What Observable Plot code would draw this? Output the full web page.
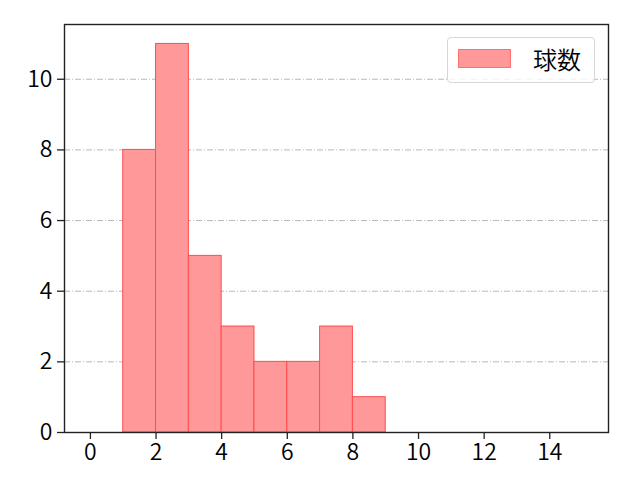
<!DOCTYPE html>
<html>
<head>
<meta charset="utf-8">
<script src="https://cdn.jsdelivr.net/npm/d3@7"></script>
<script src="https://cdn.jsdelivr.net/npm/@observablehq/plot@0.6"></script>
<style>
  html, body { margin: 0; padding: 0; background: #fff; }
  #wrap { position: relative; width: 640px; height: 480px; font-family: "Noto Sans CJK JP", "DejaVu Sans", sans-serif; }
  #wrap svg text { font-size: 23px; font-weight: 350; fill: #000; }
  #wrap svg g[aria-label="x-axis tick"] path, #wrap svg g[aria-label="y-axis tick"] path { stroke: #222; stroke-opacity: 1; stroke-width: 1.3; }
  #legend { position: absolute; left: 447px; top: 37px; width: 148px; height: 46px; box-sizing: border-box;
    border: 1px solid #d6d6d6; border-radius: 4px; background: rgba(255,255,255,0.8); }
  #legend .sw { position: absolute; left: 10px; top: 11px; width: 53px; height: 19px; background: #ff9999; border: 1px solid #ff7070; box-sizing: border-box; }
  #legend .lb { position: absolute; left: 85px; top: 5px; font-size: 24px; font-weight: 350; line-height: 32px; color: #000; }
</style>
</head>
<body>
<div id="wrap"><div id="legend"><div class="sw"></div><div class="lb">球数</div></div></div>
<script>
const binStart = [1, 2, 3, 4, 5, 6, 7, 8];
const binEnd   = [2, 3, 4, 5, 6, 7, 8, 9];
const counts   = [8, 11, 5, 3, 2, 2, 3, 1];
const xTicks = [0, 2, 4, 6, 8, 10, 12, 14];
const yTicks = [0, 2, 4, 6, 8, 10];
const seriesName = "球数";

const bins = binStart.map((s, i) => ({x1: s, x2: binEnd[i], y: counts[i]}));

const chart = Plot.plot({
  width: 640,
  height: 480,
  marginLeft: 64,
  marginRight: 32,
  marginTop: 24,
  marginBottom: 48,
  style: {fontFamily: "'Noto Sans CJK JP', 'DejaVu Sans', sans-serif", color: "#111", background: "transparent"},
  x: {domain: [-0.79, 15.79], label: null},
  y: {domain: [0, 11.55], label: null},
  marks: [
    Plot.gridY(yTicks.filter(d => d > 0), {stroke: "#b0b0b0", strokeOpacity: 1, strokeWidth: 0.9, strokeDasharray: "6,2,1,2"}),
    Plot.rectY(bins, {x1: "x1", x2: "x2", y: "y", fill: "#ff9999", stroke: "#ff4d4d", strokeWidth: 1, inset: 0}),
    Plot.frame({stroke: "#222", strokeWidth: 1.4}),
    Plot.axisX({ticks: xTicks, tickSize: 7, tickPadding: 4, tickFormat: d => String(d)}),
    Plot.axisY({ticks: yTicks, tickSize: 7, tickPadding: 5, tickFormat: d => String(d)})
  ]
});
document.getElementById("wrap").insertBefore(chart, document.getElementById("legend"));
document.querySelector("#legend .lb").textContent = seriesName;
</script>
</body>
</html>
